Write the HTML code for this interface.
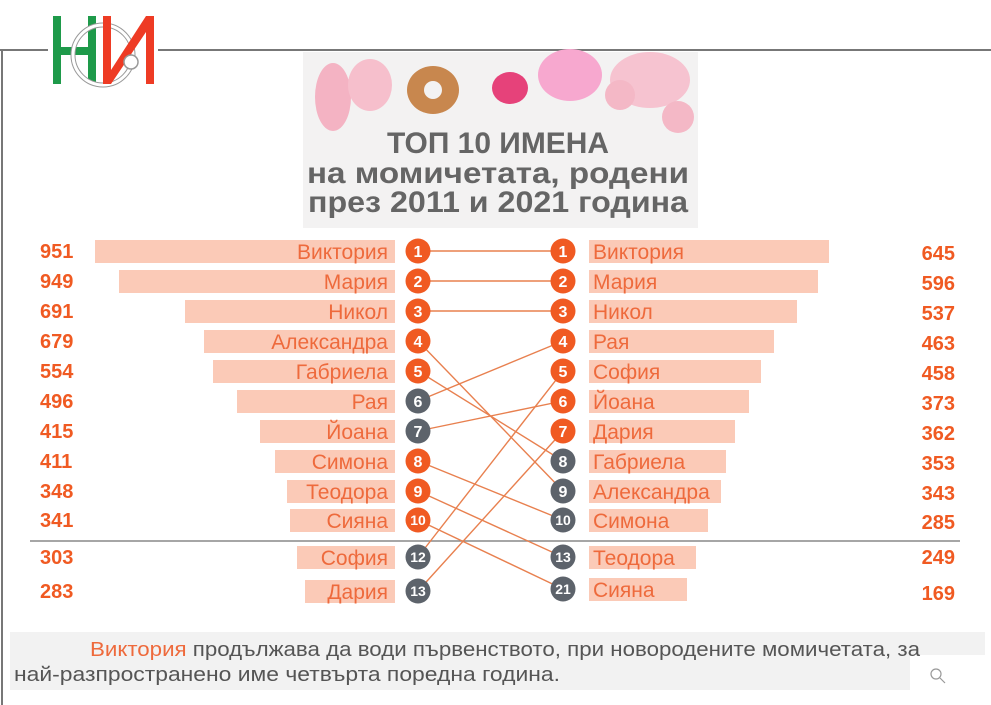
<!DOCTYPE html>
<html><head><meta charset="utf-8"><style>
html,body{margin:0;padding:0;background:#fff;}
svg{display:block;font-family:"Liberation Sans","DejaVu Sans",sans-serif;}
</style></head><body>
<svg width="991" height="705" viewBox="0 0 991 705">
<rect width="991" height="705" fill="#fff"/>
<line x1="0" y1="50" x2="991" y2="50" stroke="#777" stroke-width="2"/>
<line x1="2" y1="50" x2="2" y2="705" stroke="#777" stroke-width="2"/>
<rect x="48" y="20" width="110" height="70" fill="#fff"/>
<rect x="53" y="16" width="8" height="68" fill="#1e9a4a"/>
<rect x="53" y="47" width="40" height="8" fill="#1e9a4a"/>
<rect x="88" y="16" width="8" height="68" fill="#1e9a4a"/>
<circle cx="103" cy="55" r="30" fill="none" stroke="#999" stroke-width="5"/>
<circle cx="103" cy="55" r="30" fill="none" stroke="#fff" stroke-width="3"/>
<polygon points="103,16 111,16 111,70 146,16 154,16 154,84 146,84 146,32 111,84 103,84" fill="#ee3b24"/>
<circle cx="131" cy="62" r="7" fill="#fff" stroke="#999" stroke-width="1.5"/>
<rect x="303" y="52" width="395" height="176" fill="#f3f2f2"/>
<ellipse cx="333" cy="97" rx="18" ry="34" fill="#f4b3c3"/>
<ellipse cx="370" cy="85" rx="22" ry="26" fill="#f6bfcc"/>
<ellipse cx="433" cy="90" rx="26" ry="24" fill="#c8874e"/>
<circle cx="433" cy="90" r="9" fill="#f3f2f2"/>
<ellipse cx="510" cy="88" rx="18" ry="16" fill="#e6427a"/>
<ellipse cx="570" cy="75" rx="32" ry="26" fill="#f7a8cf"/>
<ellipse cx="650" cy="80" rx="40" ry="28" fill="#f6c3d0"/>
<circle cx="620" cy="95" r="15" fill="#f4b8c6"/>
<circle cx="678" cy="117" r="16" fill="#f4b8c6"/>
<g font-weight="bold" fill="#656565" text-anchor="middle" font-size="30">
<text x="498" y="153" textLength="222" lengthAdjust="spacingAndGlyphs">ТОП 10 ИМЕНА</text>
<text x="498" y="183" textLength="382" lengthAdjust="spacingAndGlyphs">на момичетата, родени</text>
<text x="498" y="212" textLength="380" lengthAdjust="spacingAndGlyphs">през 2011 и 2021 година</text>
</g>
<g fill="#fbcab7">
<rect x="95" y="240" width="300" height="23"/>
<rect x="119" y="270" width="276" height="23"/>
<rect x="185" y="300" width="210" height="23"/>
<rect x="204" y="330" width="191" height="23"/>
<rect x="213" y="360" width="182" height="23"/>
<rect x="237" y="390" width="158" height="23"/>
<rect x="260" y="420" width="135" height="23"/>
<rect x="275" y="450" width="120" height="23"/>
<rect x="287" y="480" width="108" height="23"/>
<rect x="290" y="509" width="105" height="23"/>
<rect x="297" y="546" width="98" height="23"/>
<rect x="305" y="580" width="90" height="23"/>
<rect x="589" y="240" width="240" height="23"/>
<rect x="589" y="270" width="229" height="23"/>
<rect x="589" y="300" width="208" height="23"/>
<rect x="589" y="330" width="185" height="23"/>
<rect x="589" y="360" width="172" height="23"/>
<rect x="589" y="390" width="160" height="23"/>
<rect x="589" y="420" width="146" height="23"/>
<rect x="589" y="450" width="137" height="23"/>
<rect x="589" y="480" width="132" height="23"/>
<rect x="589" y="509" width="119" height="23"/>
<rect x="589" y="546" width="107" height="23"/>
<rect x="589" y="578" width="98" height="23"/>
</g>
<line x1="30" y1="541" x2="960" y2="541" stroke="#888" stroke-width="1.5"/>
<g font-size="21" fill="#ee6a3c">
<g text-anchor="end">
<text x="388" y="259">Виктория</text>
<text x="388" y="289">Мария</text>
<text x="388" y="319">Никол</text>
<text x="388" y="349">Александра</text>
<text x="388" y="379">Габриела</text>
<text x="388" y="409">Рая</text>
<text x="388" y="439">Йоана</text>
<text x="388" y="469">Симона</text>
<text x="388" y="499">Теодора</text>
<text x="388" y="528">Сияна</text>
<text x="388" y="565">София</text>
<text x="388" y="599">Дария</text>
</g>
<text x="593" y="259">Виктория</text>
<text x="593" y="289">Мария</text>
<text x="593" y="319">Никол</text>
<text x="593" y="349">Рая</text>
<text x="593" y="379">София</text>
<text x="593" y="409">Йоана</text>
<text x="593" y="439">Дария</text>
<text x="593" y="469">Габриела</text>
<text x="593" y="499">Александра</text>
<text x="593" y="528">Симона</text>
<text x="593" y="565">Теодора</text>
<text x="593" y="597">Сияна</text>
</g>
<g font-size="20" font-weight="bold" fill="#f05a22">
<text x="40" y="258">951</text><text x="40" y="288">949</text><text x="40" y="318">691</text>
<text x="40" y="348">679</text><text x="40" y="378">554</text><text x="40" y="408">496</text>
<text x="40" y="438">415</text><text x="40" y="468">411</text><text x="40" y="498">348</text>
<text x="40" y="527">341</text><text x="40" y="564">303</text><text x="40" y="598">283</text>
<g text-anchor="end">
<text x="955" y="260">645</text><text x="955" y="290">596</text><text x="955" y="320">537</text>
<text x="955" y="350">463</text><text x="955" y="380">458</text><text x="955" y="410">373</text>
<text x="955" y="440">362</text><text x="955" y="470">353</text><text x="955" y="500">343</text>
<text x="955" y="529">285</text><text x="955" y="564">249</text><text x="955" y="600">169</text>
</g>
</g>
<g stroke="#e8804f" stroke-width="1.4">
<line x1="418" y1="251" x2="563" y2="251"/>
<line x1="418" y1="281" x2="563" y2="281"/>
<line x1="418" y1="311" x2="563" y2="311"/>
<line x1="418" y1="341" x2="563" y2="491"/>
<line x1="418" y1="371" x2="563" y2="461"/>
<line x1="418" y1="401" x2="563" y2="341"/>
<line x1="418" y1="431" x2="563" y2="401"/>
<line x1="418" y1="461" x2="563" y2="520"/>
<line x1="418" y1="491" x2="563" y2="557"/>
<line x1="418" y1="520" x2="563" y2="589"/>
<line x1="418" y1="557" x2="563" y2="371"/>
<line x1="418" y1="591" x2="563" y2="431"/>
</g>
<g font-size="16" font-weight="bold" fill="#fff" text-anchor="middle">
<g fill="#f05a22">
<circle cx="418" cy="251" r="12.5"/><circle cx="418" cy="281" r="12.5"/><circle cx="418" cy="311" r="12.5"/>
<circle cx="418" cy="341" r="12.5"/><circle cx="418" cy="371" r="12.5"/>
<circle cx="418" cy="461" r="12.5"/><circle cx="418" cy="491" r="12.5"/><circle cx="418" cy="520" r="12.5"/>
<circle cx="563" cy="251" r="12.5"/><circle cx="563" cy="281" r="12.5"/><circle cx="563" cy="311" r="12.5"/>
<circle cx="563" cy="341" r="12.5"/><circle cx="563" cy="371" r="12.5"/><circle cx="563" cy="401" r="12.5"/>
<circle cx="563" cy="431" r="12.5"/>
</g>
<g fill="#5d636b">
<circle cx="418" cy="401" r="12.5"/><circle cx="418" cy="431" r="12.5"/>
<circle cx="418" cy="557" r="12.5"/><circle cx="418" cy="591" r="12.5"/>
<circle cx="563" cy="461" r="12.5"/><circle cx="563" cy="491" r="12.5"/><circle cx="563" cy="520" r="12.5"/>
<circle cx="563" cy="557" r="12.5"/><circle cx="563" cy="589" r="12.5"/>
</g>
<text x="418" y="257">1</text><text x="418" y="287">2</text><text x="418" y="317">3</text>
<text x="418" y="347">4</text><text x="418" y="377">5</text><text x="418" y="407">6</text>
<text x="418" y="437">7</text><text x="418" y="467">8</text><text x="418" y="497">9</text>
<text x="418" y="525" font-size="14">10</text><text x="418" y="562" font-size="14">12</text><text x="418" y="596" font-size="14">13</text>
<text x="563" y="257">1</text><text x="563" y="287">2</text><text x="563" y="317">3</text>
<text x="563" y="347">4</text><text x="563" y="377">5</text><text x="563" y="407">6</text>
<text x="563" y="437">7</text><text x="563" y="467">8</text><text x="563" y="497">9</text>
<text x="563" y="525" font-size="14">10</text><text x="563" y="562" font-size="14">13</text><text x="563" y="594" font-size="14">21</text>
</g>
<rect x="10" y="632" width="975" height="58" fill="#f2f2f2"/>
<rect x="910" y="655" width="81" height="50" fill="#fff"/>
<g font-size="20" fill="#555">
<text x="90" y="656" textLength="830" lengthAdjust="spacingAndGlyphs"><tspan fill="#ee6a3c">Виктория</tspan> продължава да води първенството, при новородените момичетата, за</text>
<text x="14" y="681" textLength="546" lengthAdjust="spacingAndGlyphs">най-разпространено име четвърта поредна година.</text>
</g>
<circle cx="936" cy="674" r="5" fill="none" stroke="#999" stroke-width="1.2"/>
<line x1="940" y1="678" x2="945" y2="683" stroke="#999" stroke-width="1.2"/>
</svg>
</body></html>
